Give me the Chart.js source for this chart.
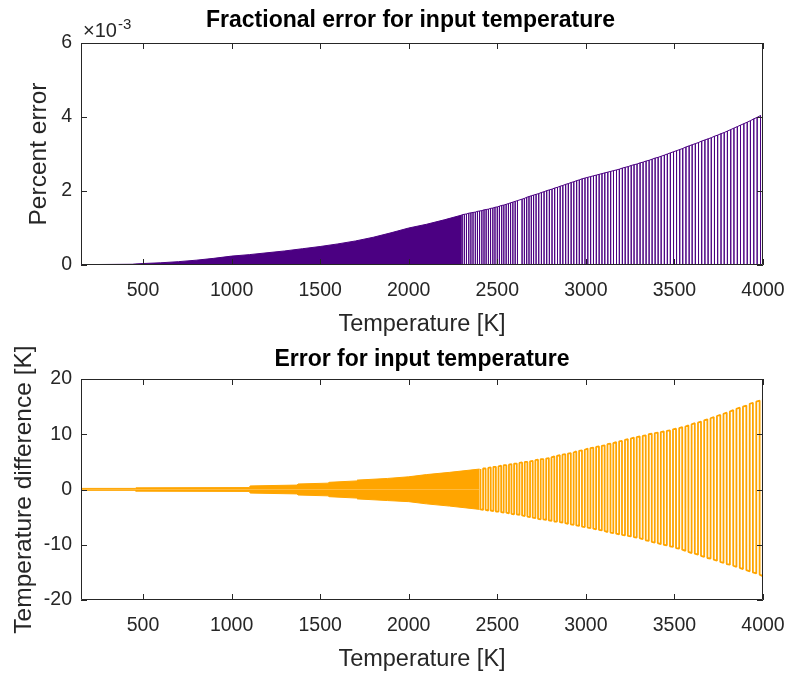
<!DOCTYPE html>
<html><head><meta charset="utf-8">
<script src="https://cdn.jsdelivr.net/npm/chart.js@4/dist/chart.umd.min.js"></script>
<style>
html,body{margin:0;padding:0;background:#fff;}
#wrap{position:relative;width:788px;height:674px;overflow:hidden;}
canvas{position:absolute;left:0;}
#c1{top:0;} #c2{top:340px;}
</style></head><body>
<div id="wrap">
<canvas id="c1" width="788" height="340"></canvas>
<canvas id="c2" width="788" height="334"></canvas>
</div>
<script>
// ---------- tick labels ----------
const tempTicks = [500, 1000, 1500, 2000, 2500, 3000, 3500, 4000];
const fracTicks = [0, 2, 4, 6];            // ×10^-3
const diffTicks = [-20, -10, 0, 10, 20];

// ---------- top panel: fractional error (units of 10^-3) ----------
// dense (visually solid) part: envelope of the oscillation
const fracDenseT  = [150, 440, 460, 500, 600, 700, 800, 900, 1000, 1100, 1200, 1300, 1400, 1500, 1600, 1700, 1800, 1900, 2000, 2100, 2200, 2300];
const fracDenseE3 = [0.01, 0.02, 0.03, 0.04, 0.06, 0.09, 0.13, 0.18, 0.24, 0.28, 0.33, 0.38, 0.44, 0.50, 0.57, 0.65, 0.75, 0.87, 1.00, 1.10, 1.22, 1.35];
// resolved spikes: [temperature, peak]
const fracSpikes = [
 [2302,1.36],[2314,1.37],[2326,1.38],[2339,1.40],[2351,1.41],[2363,1.42],[2376,1.43],[2388,1.45],[2400,1.46],[2413,1.47],
 [2425,1.49],[2437,1.50],[2450,1.51],[2462,1.53],[2475,1.54],[2487,1.56],[2500,1.57],[2512,1.59],[2525,1.61],[2537,1.62],
 [2550,1.64],[2563,1.66],[2575,1.68],[2588,1.70],[2601,1.72],[2614,1.74],[2640,1.78],[2653,1.80],[2666,1.83],[2679,1.85],
 [2692,1.87],[2705,1.89],[2719,1.91],[2734,1.93],[2749,1.96],[2764,1.98],[2779,2.01],[2794,2.03],[2809,2.05],[2824,2.08],
 [2840,2.10],[2855,2.13],[2870,2.15],[2886,2.18],[2901,2.20],[2917,2.23],[2932,2.25],[2948,2.28],[2963,2.30],[2979,2.33],
 [2995,2.35],[3011,2.37],[3027,2.39],[3043,2.41],[3059,2.43],[3075,2.45],[3091,2.47],[3107,2.49],[3124,2.51],[3140,2.53],
 [3156,2.55],[3173,2.57],[3189,2.59],[3206,2.62],[3222,2.64],[3239,2.66],[3256,2.69],[3272,2.71],[3289,2.73],[3306,2.76],
 [3323,2.78],[3340,2.81],[3357,2.83],[3374,2.86],[3391,2.89],[3408,2.91],[3425,2.94],[3443,2.97],[3460,3.00],[3477,3.03],
 [3495,3.06],[3512,3.09],[3530,3.12],[3547,3.15],[3565,3.19],[3583,3.22],[3600,3.25],[3618,3.28],[3636,3.31],[3654,3.35],
 [3672,3.38],[3690,3.41],[3708,3.44],[3726,3.48],[3744,3.51],[3763,3.55],[3781,3.58],[3799,3.62],[3818,3.66],[3836,3.70],
 [3855,3.74],[3873,3.78],[3892,3.82],[3911,3.86],[3929,3.90],[3948,3.95],[3967,3.99],[3986,4.04]
];

// ---------- bottom panel: temperature difference [K] ----------
const diffDenseT  = [150, 455, 460, 1100, 1105, 1370, 1375, 1545, 1550, 1705, 1710, 1880, 2000, 2100, 2230, 2400];
const diffDenseHi = [0.2, 0.2, 0.3, 0.35, 0.65, 0.8, 1.0, 1.15, 1.3, 1.55, 1.7, 2.0, 2.3, 2.7, 3.1, 3.7];
const diffDenseLo = [-0.15, -0.15, -0.3, -0.35, -0.65, -0.8, -1.0, -1.15, -1.3, -1.55, -1.7, -2.0, -2.2, -2.6, -3.0, -3.6];
// resolved swings: [temperature, high, low]
const diffSpikes = [
 [2405,3.7,-3.6],[2420,3.8,-3.7],[2434,3.8,-3.7],[2449,3.9,-3.8],[2463,4.0,-3.8],[2478,4.1,-3.9],[2492,4.1,-4.0],[2507,4.2,-4.0],
 [2522,4.3,-4.1],[2536,4.4,-4.2],[2551,4.4,-4.2],[2566,4.5,-4.3],[2580,4.6,-4.4],[2595,4.7,-4.5],[2610,4.7,-4.5],[2625,4.8,-4.6],
 [2640,4.9,-4.7],[2655,5.0,-4.8],[2670,5.0,-4.9],[2685,5.1,-5.0],[2700,5.2,-5.1],[2715,5.3,-5.2],[2730,5.4,-5.3],[2745,5.5,-5.4],
 [2760,5.5,-5.4],[2776,5.6,-5.5],[2791,5.7,-5.6],[2806,5.8,-5.7],[2822,6.0,-5.8],[2837,6.1,-5.8],[2853,6.2,-5.9],[2868,6.3,-6.0],
 [2884,6.4,-6.1],[2899,6.5,-6.2],[2915,6.6,-6.3],[2931,6.7,-6.4],[2946,6.9,-6.5],[2962,7.0,-6.6],[2978,7.1,-6.7],[2994,7.2,-6.8],
 [3010,7.4,-6.9],[3026,7.5,-7.0],[3042,7.6,-7.1],[3058,7.7,-7.2],[3074,7.8,-7.3],[3090,7.9,-7.4],[3106,8.0,-7.5],[3122,8.2,-7.7],
 [3139,8.3,-7.8],[3155,8.4,-7.9],[3171,8.6,-8.0],[3188,8.7,-8.1],[3204,8.8,-8.2],[3221,9.0,-8.3],[3237,9.1,-8.4],[3254,9.2,-8.5],
 [3271,9.4,-8.6],[3287,9.5,-8.7],[3304,9.6,-8.8],[3321,9.7,-9.0],[3338,9.8,-9.2],[3355,10.0,-9.3],[3372,10.1,-9.5],[3389,10.2,-9.6],
 [3406,10.3,-9.7],[3423,10.4,-9.9],[3440,10.5,-10.0],[3457,10.6,-10.1],[3475,10.7,-10.3],[3492,10.9,-10.4],[3509,11.0,-10.6],[3527,11.1,-10.7],
 [3544,11.3,-10.9],[3562,11.4,-11.1],[3579,11.6,-11.3],[3597,11.8,-11.5],[3615,12.0,-11.6],[3633,12.1,-11.8],[3650,12.3,-12.0],[3668,12.5,-12.2],
 [3686,12.7,-12.4],[3704,12.9,-12.5],[3722,13.1,-12.7],[3740,13.3,-12.9],[3759,13.5,-13.1],[3777,13.7,-13.3],[3795,13.9,-13.5],[3813,14.1,-13.6],
 [3832,14.4,-13.8],[3850,14.6,-14.0],[3869,14.8,-14.2],[3887,15.0,-14.4],[3906,15.2,-14.6],[3925,15.5,-14.8],[3943,15.7,-15.0],[3962,15.9,-15.2],
 [3981,16.1,-15.4],[3999,16.4,-15.7]
];

// ---------- styling ----------
const FONT = '"Liberation Sans", Arial, Helvetica, sans-serif';
const AX = '#262626';
const PURPLE = '#4B0082';
const ORANGE = '#FFA500';
Chart.defaults.font.family = FONT;

const frame = {
  id: 'frame',
  afterLayout(chart, args, o) {
    const tb = chart.titleBlock;
    if (tb && o.titleCenter != null) {
      const d = o.titleCenter - (tb.left + tb.right) / 2;
      tb.left += d; tb.right += d;
    }
  },
  afterDatasetsDraw(chart, args, o) {
    const {ctx, chartArea: a, scales: {x, y}} = chart;
    ctx.save();
    ctx.strokeStyle = AX; ctx.lineWidth = 1;
    ctx.beginPath();
    ctx.rect(a.left + 0.5, a.top + 0.5, a.right - a.left - 1, a.bottom - a.top - 1);
    const L = 6;
    tempTicks.forEach(v => {
      const p = Math.round(x.getPixelForValue(v)) + 0.5;
      ctx.moveTo(p, a.bottom); ctx.lineTo(p, a.bottom - L);
      ctx.moveTo(p, a.top); ctx.lineTo(p, a.top + L);
    });
    o.yTicks.forEach(v => {
      const p = Math.round(y.getPixelForValue(v)) + 0.5;
      ctx.moveTo(a.left, p); ctx.lineTo(a.left + L, p);
      ctx.moveTo(a.right, p); ctx.lineTo(a.right - L, p);
    });
    ctx.stroke();
    if (o.expo) {
      ctx.fillStyle = AX;
      ctx.textBaseline = 'alphabetic';
      ctx.font = '20px ' + FONT;
      ctx.fillText('\u00D710', 83, 37);
      const w = ctx.measureText('\u00D710').width;
      ctx.font = '15px ' + FONT;
      ctx.fillText('-3', 83 + w + 1, 29);
    }
    ctx.restore();
  }
};

function makeChart(id, cfg) {
  return new Chart(document.getElementById(id), {
    type: 'line',
    data: {datasets: cfg.datasets},
    plugins: [frame],
    options: {
      responsive: false, animation: false, devicePixelRatio: 1,
      layout: {padding: {left: 0, right: 25, top: 0, bottom: 0}},
      elements: {point: {radius: 0}, line: {tension: 0, borderJoinStyle: 'bevel'}},
      plugins: {
        legend: {display: false}, tooltip: {enabled: false},
        title: {display: true, text: cfg.title, color: '#000',
          font: {size: 23, weight: 'bold'}, padding: cfg.titlePad},
        frame: {titleCenter: cfg.titleCenter, yTicks: cfg.yTicks, expo: cfg.expo}
      },
      scales: {
        x: {
          type: 'linear', min: 150, max: 4000,
          afterBuildTicks: s => { s.ticks = tempTicks.map(v => ({value: v})); },
          afterFit: s => { s.height = cfg.xHeight; s.paddingLeft = 0; s.paddingRight = 0; },
          grid: {display: false, drawTicks: false}, border: {display: false},
          ticks: {padding: 14, autoSkip: false, maxRotation: 0, color: AX, font: {size: 19.5},
            callback: v => String(v)},
          title: {display: true, text: 'Temperature [K]', color: AX, font: {size: 23.5},
            padding: {top: 0, bottom: cfg.xTitlePad}}
        },
        y: {
          type: 'linear', min: cfg.yMin, max: cfg.yMax,
          afterBuildTicks: s => { s.ticks = cfg.yTicks.map(v => ({value: v})); },
          afterFit: s => { s.width = 81; s.paddingTop = 0; s.paddingBottom = 0; },
          grid: {display: false, drawTicks: false}, border: {display: false},
          ticks: {padding: 9, color: AX, font: {size: 19.5}, callback: v => String(v)},
          title: {display: true, text: cfg.yTitle, color: AX, font: {size: 24.5},
            padding: {top: cfg.yTitlePad, bottom: 0}}
        }
      }
    }
  });
}

// top datasets
const fracDenseData = fracDenseT.map((t, i) => ({x: t, y: fracDenseE3[i]}));
const fracSpikeData = [];
fracSpikes.forEach(([t, p]) => { fracSpikeData.push({x: t, y: p}, {x: t, y: 0}, {x: t, y: p}); });

makeChart('c1', {
  title: 'Fractional error for input temperature',
  titlePad: {top: 6.7, bottom: 8.7}, titleCenter: 410.5,
  xHeight: 75, xTitlePad: 1.2,
  yMin: 0, yMax: 6, yTicks: fracTicks, yTitle: 'Percent error', yTitlePad: 25,
  expo: true,
  datasets: [
    {data: fracDenseData, borderColor: PURPLE, backgroundColor: PURPLE, borderWidth: 1, fill: 'origin'},
    {data: fracSpikeData, borderColor: PURPLE, borderWidth: 1, fill: false}
  ]
});

// bottom datasets
const diffHiData = diffDenseT.map((t, i) => ({x: t, y: diffDenseHi[i]}));
const diffLoData = diffDenseT.map((t, i) => ({x: t, y: diffDenseLo[i]}));
const diffSpikeData = [];
diffSpikes.forEach(([t, hi, lo], i) => {
  if (i % 2 === 0) diffSpikeData.push({x: t, y: hi}, {x: t, y: lo});
  else diffSpikeData.push({x: t, y: lo}, {x: t, y: hi});
});

makeChart('c2', {
  title: 'Error for input temperature',
  titlePad: {top: 5.7, bottom: 5.7}, titleCenter: 422,
  xHeight: 74, xTitlePad: 0,
  yMin: -20, yMax: 20, yTicks: diffTicks, yTitle: 'Temperature difference [K]', yTitlePad: 10,
  expo: false,
  datasets: [
    {data: diffHiData, borderColor: ORANGE, backgroundColor: ORANGE, borderWidth: 1, fill: 'origin'},
    {data: diffLoData, borderColor: ORANGE, backgroundColor: ORANGE, borderWidth: 1, fill: 'origin'},
    {data: diffSpikeData, borderColor: ORANGE, borderWidth: 1.8, fill: false}
  ]
});
</script>
</body></html>
